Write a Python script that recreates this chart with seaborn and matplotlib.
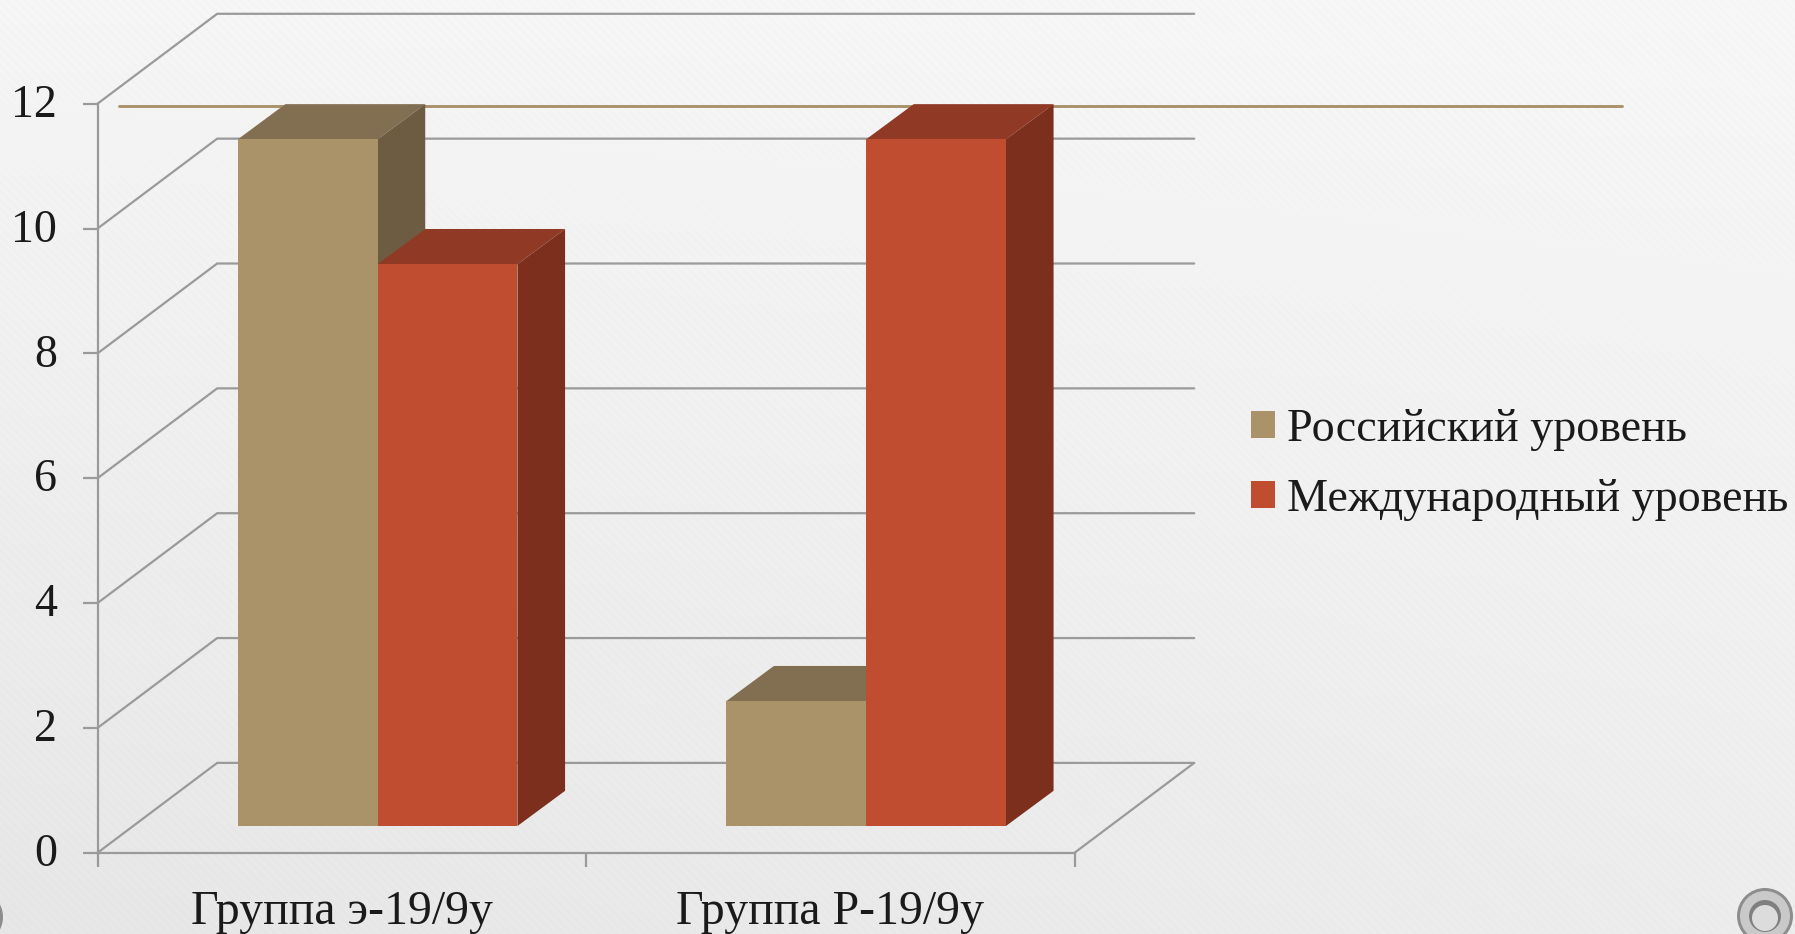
import numpy as np
import pandas as pd
import matplotlib.pyplot as plt
from matplotlib.patches import Circle, Polygon
from matplotlib.transforms import ScaledTranslation
import seaborn as sns

# values
groups = ["Группа э-19/9у", "Группа Р-19/9у"]
russian = [11, 2]
international = [9, 11]
series_names = ["Российский уровень", "Международный уровень"]
y_ticks = [0, 2, 4, 6, 8, 10, 12]
ref_level = 11.96

front_colors = ["#aa9369", "#c04d30"]
top_colors = ["#826f51", "#903a25"]
side_colors = ["#6e5c42", "#7d2f1e"]
grid_color = "#9a9a9a"

# fake 3d depth, in data units
wall_dx, wall_dy = 0.245, 1.44
shift_dx, shift_dy = 0.0734, 0.429
bar_dx, bar_dy = 0.0975, 0.564

W, H = 1795, 934

sns.set_theme(style="white")
plt.rcParams["font.family"] = ["Liberation Serif", "DejaVu Serif"]

fig = plt.figure(figsize=(W / 100, H / 100), dpi=100)

# slide background: soft gradient with a faint diagonal grain
bg = fig.add_axes([0, 0, 1, 1], zorder=0)
px, py = np.meshgrid(np.arange(W), np.arange(H))
shade = (0.96 + 0.005 * px / W) - (0.06 - 0.02 * px / W) * py / H
shade = shade + 0.004 * np.sin((px - py) * 0.7)
bg.imshow(shade, cmap="gray", vmin=0, vmax=1, extent=[0, W, H, 0],
          interpolation="nearest", aspect="auto")
for xc, yc, r, col in [(1765, 916, 28, "#8d8d8d"), (1765, 916, 25, "#c9c9c9"),
                       (1765, 916, 16, "#7f7f7f"), (1765, 918, 13, "#dcdcdc"),
                       (-25, 917, 28, "#8d8d8d")]:
    bg.add_patch(Circle((xc, yc), r, color=col, lw=0))
bg.set_xlim(0, W)
bg.set_ylim(H, 0)
bg.axis("off")

# front plane of the chart
left, right, y0, y12 = 97.5, 1074.5, 852.8, 103.7
ax = fig.add_axes([left / W, 1 - y0 / H, (right - left) / W, (y0 - y12) / H], zorder=1)
ax.patch.set_alpha(0)

df = pd.DataFrame({
    "group": groups * 2,
    "level": [series_names[0]] * 2 + [series_names[1]] * 2,
    "value": russian + international,
})
sns.barplot(data=df, x="group", y="value", hue="level", hue_order=series_names,
            palette=front_colors, width=0.5725, saturation=1, ax=ax, zorder=3, linewidth=0)

ax.set_xlim(-0.5, 1.5)
ax.set_ylim(0, 12)
ax.set_xlabel("")
ax.set_ylabel("")

# walls and floor
for v in y_ticks:
    ax.plot([-0.5, -0.5 + wall_dx, 1.5 + wall_dx], [v, v + wall_dy, v + wall_dy],
            color=grid_color, lw=1.6, clip_on=False, zorder=1, solid_joinstyle="miter")
ax.plot([1.5, 1.5 + wall_dx], [0, wall_dy], color=grid_color, lw=1.6, clip_on=False, zorder=1)

# olive rule across the slide
ax.plot([-0.457, 2.62], [ref_level, ref_level], color="#a9926a", lw=2.1, clip_on=False, zorder=2)

# shift the seaborn bars back and add top and side faces
for k, cont in enumerate(ax.containers):
    for p in cont:
        x0 = p.get_x() + shift_dx
        w = p.get_width()
        h = p.get_height()
        p.set_x(x0)
        p.set_y(shift_dy)
        p.set_clip_on(False)
        p.set_zorder(4 + 2 * k)
        top = h + shift_dy
        ax.add_patch(Polygon([(x0, top), (x0 + w, top), (x0 + w + bar_dx, top + bar_dy), (x0 + bar_dx, top + bar_dy)],
                             closed=True, fc=top_colors[k], lw=0, clip_on=False, zorder=3 + 2 * k))
        ax.add_patch(Polygon([(x0 + w, shift_dy), (x0 + w + bar_dx, shift_dy + bar_dy),
                              (x0 + w + bar_dx, top + bar_dy), (x0 + w, top)],
                             closed=True, fc=side_colors[k], lw=0, clip_on=False, zorder=3 + 2 * k))

# axes
for s in ["top", "right"]:
    ax.spines[s].set_visible(False)
for s in ["left", "bottom"]:
    ax.spines[s].set_color(grid_color)
    ax.spines[s].set_linewidth(1.6)
    ax.spines[s].set_zorder(2)

ax.set_yticks(y_ticks)
ax.set_xticks([-0.5, 0.5, 1.5])
ax.set_xticklabels([])
ax.set_xticks([0, 1], minor=True)
ax.set_xticklabels(groups, minor=True, fontsize=34.5, color="#1a1a1a")
ax.tick_params(axis="y", length=11, width=1.6, color=grid_color, labelsize=33, pad=18, labelcolor="#1a1a1a", left=True)
ax.tick_params(axis="x", which="major", length=10, width=1.6, color=grid_color, bottom=True)
ax.tick_params(axis="x", which="minor", length=0, pad=27)

# tick numbers sit a little above their ticks
nudge = ScaledTranslation(0, 3 / 100, fig.dpi_scale_trans)
for lab in ax.get_yticklabels():
    lab.set_transform(lab.get_transform() + nudge)

handles = ax.get_legend().legend_handles
ax.legend(handles, series_names, loc="upper left", frameon=False, fontsize=33.2,
          bbox_to_anchor=(1228 / W, 1 - 385 / H), bbox_transform=fig.transFigure,
          handlelength=0.53, handleheight=0.53, handletextpad=0.25, labelspacing=0.6,
          borderpad=0, labelcolor="#1a1a1a")

fig.savefig("out.png", dpi=100)
